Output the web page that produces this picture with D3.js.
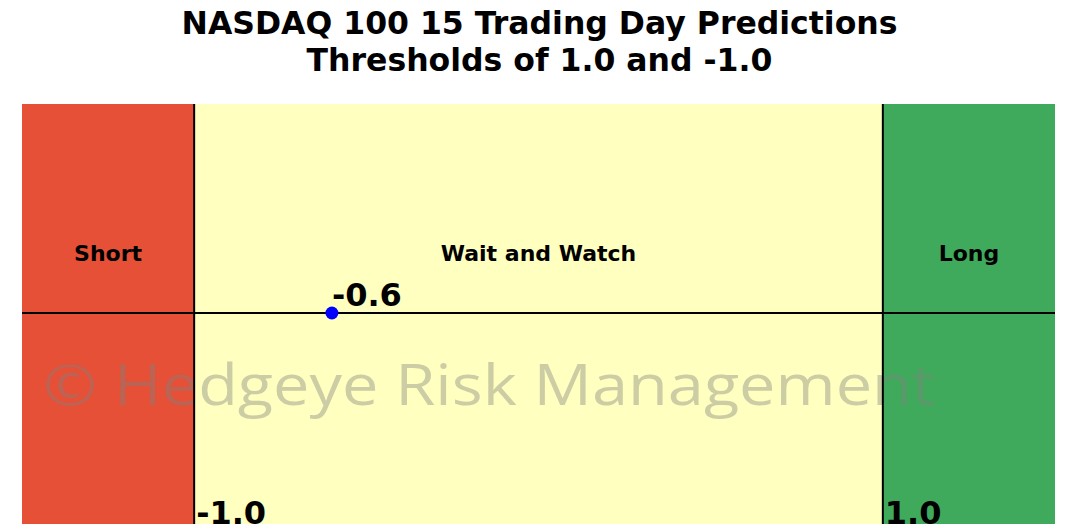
<!DOCTYPE html>
<html>
<head>
<meta charset="utf-8">
<script src="https://cdn.jsdelivr.net/npm/d3@7"></script>
<style>
  html, body { margin: 0; padding: 0; background: #fff; overflow: hidden; }
  svg { display: block; }
</style>
</head>
<body>
<svg id="chart" width="1067" height="524"></svg>
<script>
const titleLines = ["NASDAQ 100 15 Trading Day Predictions", "Thresholds of 1.0 and -1.0"];
const zoneNames = ["Short", "Wait and Watch", "Long"];
const zoneStarts = [-1.5, -1.0, 1.0];
const zoneEnds = [-1.0, 1.0, 1.5];
const zoneColors = ["#e55037", "#ffffbf", "#40aa5c"];
const thresholds = [-1.0, 1.0];
const thresholdLabels = ["-1.0", "1.0"];
const predictionValue = [-0.6];
const predictionLabel = ["-0.6"];
const watermark = "© Hedgeye Risk Management";

const svg = d3.select("#chart");
const W = 1067, H = 524;
const margin = { left: 22, right: 12, top: 104, bottom: 2 };

const x = d3.scaleLinear().domain([-1.5, 1.5]).range([margin.left, W - margin.right]);
const y = d3.scaleLinear().domain([-1, 1]).range([H - margin.bottom, margin.top]);

// title
svg.append("g").selectAll("text").data(titleLines).join("text")
  .attr("x", W / 2 + 6)
  .attr("y", (d, i) => 34 + i * 37)
  .attr("text-anchor", "middle")
  .attr("font-family", "DejaVu Sans")
  .attr("font-weight", "bold")
  .attr("font-size", 31.5)
  .attr("fill", "#000")
  .text(d => d);

// zones
const zones = zoneNames.map((n, i) => ({ name: n, x0: zoneStarts[i], x1: zoneEnds[i], color: zoneColors[i] }));
svg.append("g").selectAll("rect").data(zones).join("rect")
  .attr("x", d => x(d.x0))
  .attr("width", d => x(d.x1) - x(d.x0))
  .attr("y", y(1))
  .attr("height", y(-1) - y(1) + 10)
  .attr("fill", d => d.color);

svg.append("g").selectAll("text").data(zones).join("text")
  .attr("x", d => (x(d.x0) + x(d.x1)) / 2)
  .attr("y", y(0.287))
  .attr("dy", "0.36em")
  .attr("text-anchor", "middle")
  .attr("font-family", "DejaVu Sans")
  .attr("font-weight", "bold")
  .attr("font-size", 22)
  .attr("fill", "#000")
  .text(d => d.name);

// watermark
svg.append("text")
  .attr("x", 43)
  .attr("y", 405)
  .attr("font-family", "Open Sans")
  .attr("font-size", 56)
  .attr("textLength", 892)
  .attr("lengthAdjust", "spacingAndGlyphs")
  .attr("fill", "gray")
  .attr("fill-opacity", 0.4)
  .text(watermark);

// threshold lines
svg.append("g").selectAll("line").data(thresholds).join("line")
  .attr("x1", d => x(d)).attr("x2", d => x(d))
  .attr("y1", y(1)).attr("y2", H + 10)
  .attr("stroke", "#000").attr("stroke-width", 2);

// zero line
svg.append("line")
  .attr("x1", x(-1.5)).attr("x2", x(1.5))
  .attr("y1", y(0)).attr("y2", y(0))
  .attr("stroke", "#000").attr("stroke-width", 2);

// threshold labels
svg.append("g").selectAll("text").data(thresholds).join("text")
  .attr("x", d => x(d) + 2)
  .attr("y", y(-1) + 2)
  .attr("font-family", "DejaVu Sans")
  .attr("font-weight", "bold")
  .attr("font-size", 32)
  .attr("fill", "#000")
  .text((d, i) => thresholdLabels[i]);

// prediction point
svg.append("g").selectAll("circle").data(predictionValue).join("circle")
  .attr("cx", d => x(d))
  .attr("cy", y(0))
  .attr("r", 6.5)
  .attr("fill", "#0000ff");

svg.append("g").selectAll("text").data(predictionValue).join("text")
  .attr("x", d => x(d))
  .attr("y", y(0) - 7)
  .attr("font-family", "DejaVu Sans")
  .attr("font-weight", "bold")
  .attr("font-size", 32)
  .attr("fill", "#000")
  .text((d, i) => predictionLabel[i]);
</script>
</body>
</html>
